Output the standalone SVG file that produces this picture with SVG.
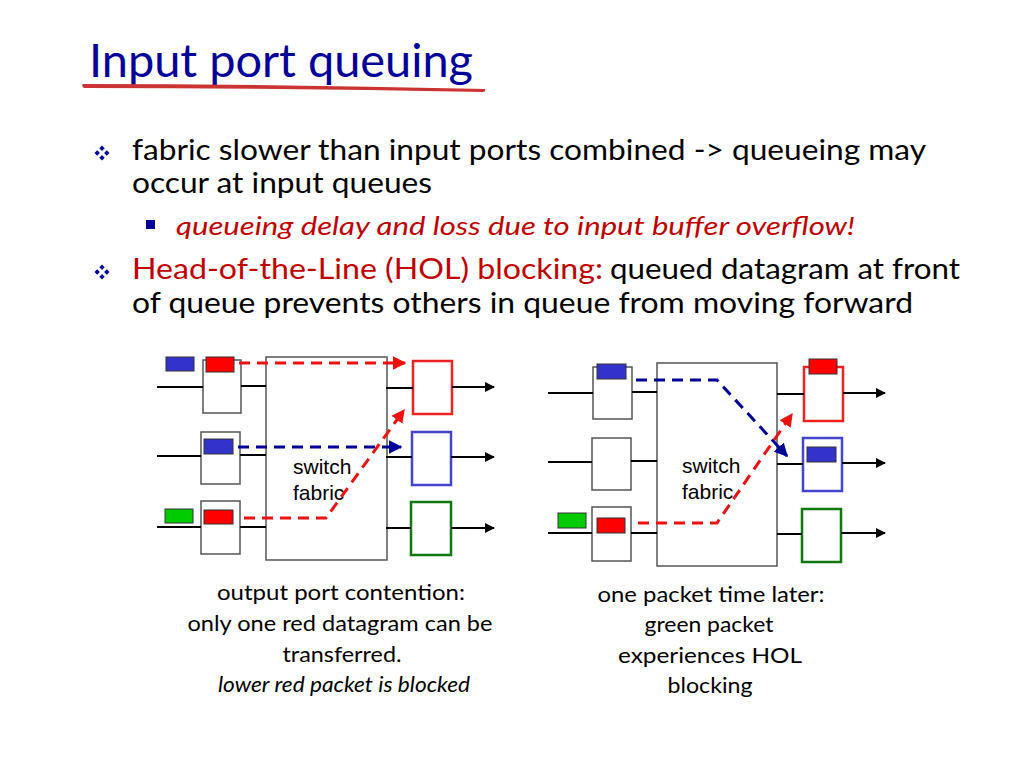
<svg xmlns="http://www.w3.org/2000/svg" width="1024" height="768" viewBox="0 0 1024 768">
<defs>
<style>
.t{font-family:Lato,"Open Sans","Liberation Sans",sans-serif;fill:#000}
.body{font-size:28px}
.red{fill:#c00000}
.cap{font-size:22px;text-anchor:middle}
.sw{font-family:"Liberation Sans",Arial,sans-serif;font-size:21px;fill:#000}
.box{fill:#fff;stroke:#555;stroke-width:1.5}
.ln{stroke:#000;stroke-width:2;fill:none}
.arr{stroke:#000;stroke-width:2;fill:none;marker-end:url(#ab)}
.rd{stroke:#ee1111;stroke-width:3;fill:none;stroke-dasharray:11 7}
.bd{stroke:#000099;stroke-width:3;fill:none;stroke-dasharray:11 7}
.pr{fill:#ff0000;stroke:#333;stroke-width:1}
.pb{fill:#3333cc;stroke:#333;stroke-width:1}
.pg{fill:#00cc00;stroke:#333;stroke-width:1}
</style>
<marker id="ab" viewBox="0 0 10 10" refX="9" refY="5" markerWidth="5" markerHeight="5" orient="auto" markerUnits="strokeWidth"><path d="M0,0 L10,5 L0,10 z" fill="#000"/></marker>
<marker id="ar" viewBox="0 0 10 10" refX="9" refY="5" markerWidth="4.5" markerHeight="4.5" orient="auto" markerUnits="strokeWidth"><path d="M0,0 L10,5 L0,10 z" fill="#ee1111"/></marker>
<marker id="abl" viewBox="0 0 10 10" refX="9" refY="5" markerWidth="4.5" markerHeight="4.5" orient="auto" markerUnits="strokeWidth"><path d="M0,0 L10,5 L0,10 z" fill="#000099"/></marker>
<g id="bul"><path d="M0,-7.5 L2.7,-4.8 L0,-2.1 L-2.7,-4.8 z M0,7.5 L2.7,4.8 L0,2.1 L-2.7,4.8 z M-7.5,0 L-4.8,2.7 L-2.1,0 L-4.8,-2.7 z M7.5,0 L4.8,2.7 L2.1,0 L4.8,-2.7 z" fill="#000099"/></g>
</defs>
<rect width="1024" height="768" fill="#fff"/>

<g id="title">
<text x="89" y="77" class="t" style="font-size:47px;fill:#000099" textLength="384" lengthAdjust="spacingAndGlyphs">Input port queuing</text>
<path d="M83,84 Q280,84 485,89 Q486,92 483,92 Q280,88 84,88 Q81,86 83,84 z" fill="#cc3333"/>
</g>

<g id="bullets">
<use href="#bul" x="102" y="153"/>
<text x="132" y="160" class="t body" textLength="794" lengthAdjust="spacingAndGlyphs">fabric slower than input ports combined -&gt; queueing may</text>
<text x="132" y="193" class="t body" textLength="300" lengthAdjust="spacingAndGlyphs">occur at input queues</text>
<rect x="146" y="220" width="9" height="9" fill="#000099"/>
<text x="176" y="235" class="t red" style="font-size:26px;font-style:italic" textLength="679" lengthAdjust="spacingAndGlyphs">queueing delay and loss due to input buffer overflow!</text>
<use href="#bul" x="102" y="272"/>
<text x="132" y="279" class="t body red" textLength="471" lengthAdjust="spacingAndGlyphs">Head-of-the-Line (HOL) blocking:</text>
<text x="610" y="279" class="t body" textLength="350" lengthAdjust="spacingAndGlyphs">queued datagram at front</text>
<text x="132" y="313" class="t body" textLength="781" lengthAdjust="spacingAndGlyphs">of queue prevents others in queue from moving forward</text>
</g>

<!-- Left diagram -->
<g id="left-switch">
<rect x="266" y="357" width="121" height="203" class="box"/>
<text x="293" y="474" class="sw">switch</text>
<text x="293" y="500" class="sw">fabric</text>
</g>
<g id="left-in1">
<rect x="203" y="360" width="38" height="53" class="box"/>
<rect x="166" y="357" width="28" height="14" class="pb"/>
<rect x="206" y="357" width="28" height="15" class="pr"/>
</g>
<g id="left-in2">
<rect x="201" y="432" width="39" height="52" class="box"/>
<rect x="204" y="439" width="29" height="15" class="pb"/>
</g>
<g id="left-in3">
<rect x="201" y="501" width="39" height="53" class="box"/>
<rect x="165" y="509" width="28" height="14" class="pg"/>
<rect x="204" y="510" width="29" height="14" class="pr"/>
</g>
<g id="left-out1"><rect x="413" y="361" width="39" height="53" fill="#fff" stroke="#ee2222" stroke-width="2.5"/></g>
<g id="left-out2"><rect x="412" y="432" width="39" height="53" fill="#fff" stroke="#4444cc" stroke-width="2.5"/></g>
<g id="left-out3"><rect x="411" y="502" width="40" height="53" fill="#fff" stroke="#117711" stroke-width="2.5"/></g>

<!-- Right diagram -->
<g id="right-switch">
<rect x="657" y="363" width="120" height="203" class="box"/>
<text x="682" y="473" class="sw">switch</text>
<text x="682" y="499" class="sw">fabric</text>
</g>
<g id="right-in1">
<rect x="593" y="367" width="39" height="52" class="box"/>
<rect x="597" y="364" width="29" height="15" class="pb"/>
</g>
<g id="right-in2"><rect x="592" y="438" width="39" height="52" class="box"/></g>
<g id="right-in3">
<rect x="592" y="507" width="39" height="54" class="box"/>
<rect x="558" y="513" width="28" height="15" class="pg"/>
<rect x="597" y="518" width="28" height="15" class="pr"/>
</g>
<g id="right-out1">
<rect x="804" y="367" width="39" height="54" fill="#fff" stroke="#ee2222" stroke-width="2.5"/>
<rect x="809" y="359" width="28" height="15" class="pr"/>
</g>
<g id="right-out2">
<rect x="803" y="438" width="39" height="53" fill="#fff" stroke="#4444cc" stroke-width="2.5"/>
<rect x="807" y="447" width="29" height="15" class="pb"/>
</g>
<g id="right-out3"><rect x="802" y="509" width="39" height="53" fill="#fff" stroke="#117711" stroke-width="2.5"/></g>

<g id="connectors">
<path class="ln" d="M157,387 H203 M241,386 H266 M157,456 H201 M240,455 H266 M157,527 H201 M240,527 H266"/>
<path class="ln" d="M386,388 H413 M386,457 H412 M386,528 H411"/>
<path class="arr" d="M452,387 H494"/>
<path class="arr" d="M451,457 H494"/>
<path class="arr" d="M451,528 H494"/>
<path class="rd" d="M239,363 H405" marker-end="url(#ar)"/>
<path class="bd" d="M238,447 H401" marker-end="url(#abl)"/>
<path class="rd" d="M244,518 H326 L404,410" marker-end="url(#ar)"/>
<path class="ln" d="M548,393 H593 M632,392 H657 M548,462 H592 M631,461 H657 M548,533 H592 M631,533 H657"/>
<path class="ln" d="M777,394 H804 M777,464 H803 M777,534 H802"/>
<path class="arr" d="M843,393 H885"/>
<path class="arr" d="M842,463 H885"/>
<path class="arr" d="M841,533 H885"/>
<path class="bd" d="M636,380 H717 L787,456" marker-end="url(#abl)"/>
<path class="rd" d="M638,523 H717 L792,414" marker-end="url(#ar)"/>
</g>

<g id="captions">
<text x="341" y="600" class="t cap" textLength="248" lengthAdjust="spacingAndGlyphs">output port contention:</text>
<text x="340" y="631" class="t cap" textLength="305" lengthAdjust="spacingAndGlyphs">only one red datagram can be</text>
<text x="342" y="662" class="t cap" textLength="119" lengthAdjust="spacingAndGlyphs">transferred.</text>
<text x="344" y="692" class="t cap" style="font-style:italic" textLength="252" lengthAdjust="spacingAndGlyphs">lower red packet is blocked</text>
<text x="711" y="602" class="t cap" textLength="227" lengthAdjust="spacingAndGlyphs">one packet time later:</text>
<text x="709" y="632" class="t cap" textLength="129" lengthAdjust="spacingAndGlyphs">green packet</text>
<text x="710" y="663" class="t cap" textLength="184" lengthAdjust="spacingAndGlyphs">experiences HOL</text>
<text x="710" y="693" class="t cap" textLength="85" lengthAdjust="spacingAndGlyphs">blocking</text>
</g>
</svg>
